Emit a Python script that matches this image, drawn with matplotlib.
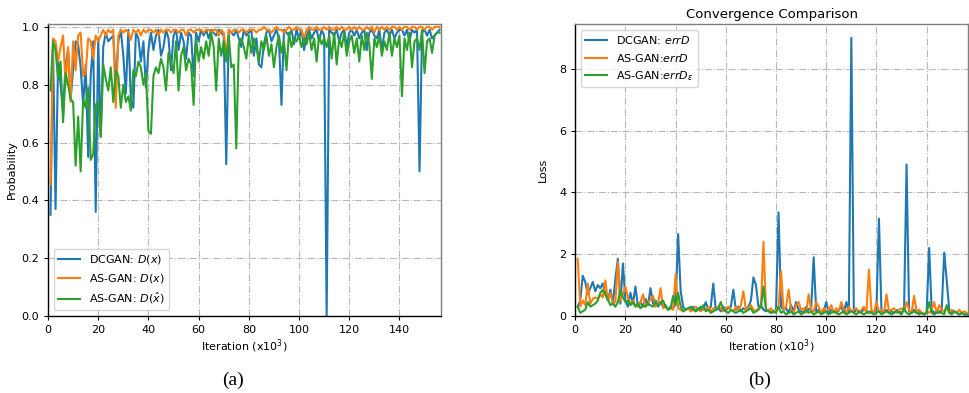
import matplotlib

matplotlib.use("Agg")
import matplotlib.pyplot as plt

# iterations (x10^3)
iters = list(range(1, 157))

# (a) discriminator outputs
dcgan_dx = [
    0.35, 0.93, 0.37, 0.88, 0.80, 0.70, 0.87, 0.92, 0.75, 0.85,
    0.95, 0.94, 0.86, 0.73, 0.87, 0.55, 0.83, 0.95, 0.36, 0.96,
    0.62, 0.93, 0.98, 0.95, 0.96, 0.97, 0.80, 0.95, 0.99, 0.90,
    0.77, 0.99, 0.75, 0.72, 0.98, 0.96, 0.88, 0.95, 0.79, 0.92,
    0.98, 0.92, 0.97, 0.99, 0.90, 0.93, 0.99, 0.96, 0.85, 0.97,
    0.99, 0.92, 0.98, 0.95, 0.89, 0.98, 0.97, 0.83, 0.98, 0.95,
    0.99, 0.97, 0.99, 0.96, 0.99, 0.98, 0.97, 0.99, 0.98, 0.97,
    0.525, 0.99, 0.98, 0.97, 0.99, 0.96, 0.93, 0.99, 0.97, 0.98,
    0.99, 0.90, 0.96, 0.87, 0.86, 0.94, 0.98, 0.99, 0.95, 0.97,
    0.99, 0.96, 0.73, 0.99, 0.98, 0.97, 0.99, 0.94, 0.99, 0.96,
    0.99, 0.92, 0.97, 0.99, 0.96, 0.98, 0.99, 0.95, 0.99, 0.97,
    0.0, 0.99, 0.98, 0.97, 0.99, 0.95, 0.98, 0.99, 0.93, 0.98,
    0.99, 0.97, 0.99, 0.96, 0.98, 0.99, 0.92, 0.98, 0.99, 0.97,
    0.96, 0.99, 0.92, 0.98, 0.99, 0.97, 0.99, 0.96, 0.98, 0.99,
    0.99, 0.97, 0.99, 0.95, 0.99, 0.98, 0.99, 0.50, 0.98, 0.99,
    0.97, 0.99, 0.96, 0.97, 0.98, 0.99,
]
asgan_dx = [
    0.455, 0.96, 0.95, 0.88, 0.93, 0.97, 0.80, 0.93, 0.74, 0.95,
    0.85, 0.97, 0.98, 0.83, 0.84, 0.96, 0.95, 0.89, 0.97, 0.95,
    0.97, 0.99, 0.97, 0.99, 0.98, 0.99, 0.72, 0.97, 0.99, 0.98,
    0.99, 0.98, 0.955, 0.99, 0.98, 0.99, 0.97, 0.99, 0.98, 0.99,
    0.99, 0.98, 0.99, 0.97, 0.99, 0.98, 0.99, 0.99, 0.98, 0.99,
    0.99, 0.98, 0.99, 0.99, 0.97, 0.99, 0.99, 0.98, 0.99, 0.99,
    0.99, 0.98, 0.99, 0.99, 0.98, 0.99, 0.99, 0.97, 0.99, 0.98,
    0.90, 0.99, 0.98, 0.99, 0.99, 0.98, 0.99, 0.99, 0.98, 0.99,
    0.99, 0.99, 0.98, 0.99, 0.99, 1.0, 0.99, 0.99, 0.98, 0.99,
    1.0, 0.99, 0.99, 0.98, 0.99, 1.0, 0.99, 0.99, 1.0, 0.99,
    0.99, 0.96, 0.99, 1.0, 0.99, 0.99, 1.0, 0.99, 0.99, 1.0,
    0.99, 1.0, 0.99, 0.99, 1.0, 0.99, 1.0, 0.99, 0.99, 1.0,
    0.99, 1.0, 0.99, 1.0, 0.99, 0.99, 1.0, 0.99, 1.0, 0.98,
    1.0, 0.99, 1.0, 0.99, 1.0, 0.99, 1.0, 1.0, 0.99, 1.0,
    0.99, 1.0, 1.0, 0.99, 1.0, 1.0, 0.99, 1.0, 1.0, 0.99,
    1.0, 1.0, 0.99, 1.0, 1.0, 1.0,
]
asgan_dxhat = [
    0.78, 0.95, 0.92, 0.82, 0.88, 0.67, 0.84, 0.80, 0.75, 0.74,
    0.52, 0.69, 0.50, 0.75, 0.72, 0.79, 0.54, 0.56, 0.73, 0.74,
    0.62, 0.87, 0.82, 0.78, 0.86, 0.74, 0.85, 0.83, 0.72, 0.80,
    0.74, 0.76, 0.71, 0.85, 0.83, 0.88, 0.86, 0.80, 0.84, 0.64,
    0.63, 0.83, 0.86, 0.84, 0.89, 0.86, 0.78, 0.91, 0.88, 0.84,
    0.95, 0.78, 0.90, 0.93, 0.85, 0.89, 0.87, 0.73, 0.96, 0.88,
    0.93, 0.89, 0.95, 0.90, 0.98, 0.93, 0.78, 0.96, 0.90, 0.95,
    0.88, 0.97, 0.86, 0.87, 0.58, 0.94, 0.96, 0.93, 0.89, 0.97,
    0.91, 0.96, 0.93, 0.88, 0.95, 0.92, 0.97, 0.90, 0.94, 0.86,
    0.93, 0.97, 0.91, 0.95, 0.85, 0.98, 0.93, 0.96, 0.95, 0.97,
    0.93, 0.96, 0.94, 0.98, 0.92, 0.96, 0.88, 0.97, 0.94, 0.96,
    0.93, 0.97, 0.89, 0.98, 0.87, 0.96, 0.93, 0.98, 0.90, 0.95,
    0.97, 0.91, 0.96, 0.88, 0.97, 0.92, 0.98, 0.94, 0.82, 0.96,
    0.93, 0.97, 0.90, 0.95, 0.92, 0.98, 0.90, 0.96, 0.93, 0.97,
    0.76, 0.96, 0.92, 0.98, 0.86, 0.95, 0.96, 0.92, 0.99, 0.84,
    0.95, 0.96, 0.91, 0.97, 0.98, 0.98,
]

# (b) discriminator losses
dcgan_errd = [
    0.3, 0.5, 1.3, 1.1, 0.7, 0.9, 1.1, 0.8, 1.0, 0.9,
    1.05, 0.7, 0.5, 0.85, 0.4, 1.2, 1.85, 0.4, 1.7, 0.5,
    0.3, 0.75, 0.4, 0.95, 0.3, 0.45, 0.3, 0.55, 0.35, 0.9,
    0.4, 0.5, 0.3, 0.45, 0.3, 0.35, 0.2, 0.3, 0.25, 0.4,
    2.65, 0.8, 0.3, 0.2, 0.25, 0.2, 0.3, 0.15, 0.2, 0.3,
    0.2, 0.45, 0.2, 0.3, 1.05, 0.2, 0.25, 0.15, 0.3, 0.2,
    0.25, 0.3, 0.85, 0.2, 0.3, 0.15, 0.25, 0.2, 0.3, 0.5,
    1.25, 1.0, 0.3, 0.35, 0.2, 0.15, 0.2, 0.1, 0.15, 0.2,
    3.35, 0.3, 0.2, 0.25, 0.1, 0.35, 0.15, 0.45, 0.2, 0.15,
    0.1, 0.3, 0.2, 0.25, 1.9, 0.15, 0.2, 0.1, 0.15, 0.45,
    0.1, 0.2, 0.15, 0.1, 0.2, 0.3, 0.1, 0.45, 0.1, 9.0,
    0.1, 0.2, 0.15, 0.1, 0.25, 0.15, 0.1, 0.15, 0.1, 0.2,
    3.15, 0.15, 0.1, 0.2, 0.1, 0.15, 0.1, 0.2, 0.15, 0.1,
    0.2, 4.9, 0.15, 0.1, 0.2, 0.1, 0.15, 0.1, 0.05, 0.1,
    2.2, 0.2, 0.1, 0.15, 0.1, 0.2, 2.05, 1.15, 0.2, 0.1,
    0.15, 0.1, 0.05, 0.1, 0.05, 0.05,
]
asgan_errd = [
    1.85, 0.3, 0.5, 0.35, 1.05, 0.4, 0.55, 0.6, 0.55, 0.7,
    0.6, 1.15, 0.5, 0.75, 0.4, 0.45, 1.75, 0.5, 0.7, 0.95,
    0.6, 0.4, 0.5, 0.35, 0.3, 0.45, 0.7, 0.3, 0.4, 0.55,
    0.65, 0.3, 0.4, 0.9, 0.25, 0.3, 0.2, 0.25, 0.2, 1.35,
    0.25, 0.2, 0.15, 0.2, 0.25, 0.15, 0.2, 0.3, 0.2, 0.15,
    0.25, 0.2, 0.3, 0.15, 0.25, 0.2, 0.3, 0.25, 0.15, 0.25,
    0.3, 0.2, 0.15, 0.3, 0.2, 0.35, 0.8, 0.2, 0.25, 0.35,
    0.2, 0.15, 0.25, 0.3, 2.4, 0.2, 0.15, 0.25, 0.1, 0.2,
    0.3, 1.45, 0.2, 0.3, 0.85, 0.2, 0.1, 0.35, 0.45, 0.2,
    0.25, 0.1, 0.7, 0.2, 0.15, 0.45, 0.3, 0.1, 0.25, 0.15,
    0.2, 0.35, 0.1, 0.25, 0.15, 0.45, 0.2, 0.1, 0.3, 0.15,
    0.2, 0.25, 0.1, 0.2, 0.3, 0.1, 1.5, 0.2, 0.1, 0.45,
    0.15, 0.2, 0.1, 0.7, 0.15, 0.2, 0.25, 0.1, 0.2, 0.25,
    0.15, 0.45, 0.2, 0.1, 0.65, 0.15, 0.2, 0.1, 0.05, 0.15,
    0.1, 0.2, 0.45, 0.1, 0.35, 0.2, 0.15, 0.3, 0.1, 0.2,
    0.15, 0.1, 0.2, 0.1, 0.15, 0.1,
]
asgan_errd_eps = [
    0.3, 0.1, 0.15, 0.2, 0.45, 0.3, 0.35, 0.4, 0.5, 0.75,
    0.85, 0.7, 0.55, 0.35, 0.4, 0.3, 0.45, 0.85, 0.6, 0.45,
    0.5, 0.35, 0.45, 0.3, 0.4, 0.25, 0.35, 0.3, 0.4, 0.35,
    0.3, 0.45, 0.35, 0.4, 0.5, 0.3, 0.2, 0.25, 0.65, 0.35,
    0.75, 0.3, 0.15, 0.2, 0.25, 0.3, 0.2, 0.15, 0.25, 0.2,
    0.35, 0.15, 0.2, 0.1, 0.15, 0.2, 0.25, 0.45, 0.2, 0.15,
    0.1, 0.2, 0.15, 0.1, 0.15, 0.2, 0.1, 0.15, 0.2, 0.25,
    0.1, 0.15, 0.2, 0.3, 0.95, 0.2, 0.15, 0.1, 0.15, 0.1,
    0.3, 0.1, 0.15, 0.05, 0.1, 0.15, 0.05, 0.1, 0.15, 0.05,
    0.1, 0.2, 0.1, 0.15, 0.05, 0.1, 0.15, 0.05, 0.1, 0.15,
    0.05, 0.1, 0.15, 0.1, 0.05, 0.1, 0.15, 0.05, 0.1, 0.15,
    0.1, 0.05, 0.15, 0.1, 0.05, 0.1, 0.15, 0.1, 0.05, 0.1,
    0.15, 0.05, 0.1, 0.15, 0.1, 0.05, 0.1, 0.15, 0.1, 0.05,
    0.25, 0.1, 0.05, 0.1, 0.15, 0.1, 0.05, 0.1, 0.05, 0.1,
    0.45, 0.1, 0.05, 0.1, 0.15, 0.1, 0.05, 0.35, 0.1, 0.05,
    0.15, 0.1, 0.05, 0.1, 0.05, 0.05,
]

BLUE, ORANGE, GREEN = "#1f77b4", "#ff7f0e", "#2ca02c"
FS = 8


def style(ax):
    ax.grid(True, linestyle="-.", color="#b8b8b8", linewidth=0.8)
    ax.tick_params(labelsize=FS, length=3)
    ax.spines["top"].set_color("#7f7f7f")
    ax.spines["right"].set_color("#7f7f7f")
    for s in ax.spines.values():
        s.set_linewidth(1.0)


fig = plt.figure(figsize=(9.7, 3.93), dpi=100)
ax1 = fig.add_axes([0.0495, 0.196, 0.405, 0.743])
ax2 = fig.add_axes([0.593, 0.196, 0.405, 0.743])

# ---------- (a) ----------
ax1.plot(iters, dcgan_dx, color=BLUE, lw=1.5, label="DCGAN: $D(x)$")
ax1.plot(iters, asgan_dx, color=ORANGE, lw=1.5, label="AS-GAN: $D(x)$")
ax1.plot(iters, asgan_dxhat, color=GREEN, lw=1.5, label="AS-GAN: $D(\\hat{x})$")
ax1.set_xlim(0, 156.5)
ax1.set_ylim(0, 1.01)
ax1.set_xticks(range(0, 141, 20))
ax1.set_yticks([0.0, 0.2, 0.4, 0.6, 0.8, 1.0])
ax1.set_xlabel("Iteration (x10$^3$)", fontsize=FS, labelpad=2)
ax1.set_ylabel("Probability", fontsize=FS, labelpad=3)
ax1.legend(loc="lower left", fontsize=FS, framealpha=0.8)
style(ax1)

# ---------- (b) ----------
ax2.plot(iters, dcgan_errd, color=BLUE, lw=1.5, label="DCGAN: $errD$")
ax2.plot(iters, asgan_errd, color=ORANGE, lw=1.5, label="AS-GAN:$errD$")
ax2.plot(iters, asgan_errd_eps, color=GREEN, lw=1.5, label="AS-GAN:$errD_\\epsilon$")
ax2.set_xlim(0, 156.5)
ax2.set_ylim(bottom=0)
ax2.set_xticks(range(0, 141, 20))
ax2.set_yticks([0, 2, 4, 6, 8])
ax2.set_xlabel("Iteration (x10$^3$)", fontsize=FS, labelpad=2)
ax2.set_ylabel("Loss", fontsize=FS, labelpad=8)
ax2.set_title("Convergence Comparison", fontsize=9.5, pad=4)
ax2.legend(loc="upper left", fontsize=FS, framealpha=0.8)
style(ax2)

fig.text(0.240, 0.033, "(a)", family="Liberation Serif", fontsize=14, ha="center", va="center")
fig.text(0.783, 0.033, "(b)", family="Liberation Serif", fontsize=14, ha="center", va="center")

fig.savefig("out.png", dpi=100)
